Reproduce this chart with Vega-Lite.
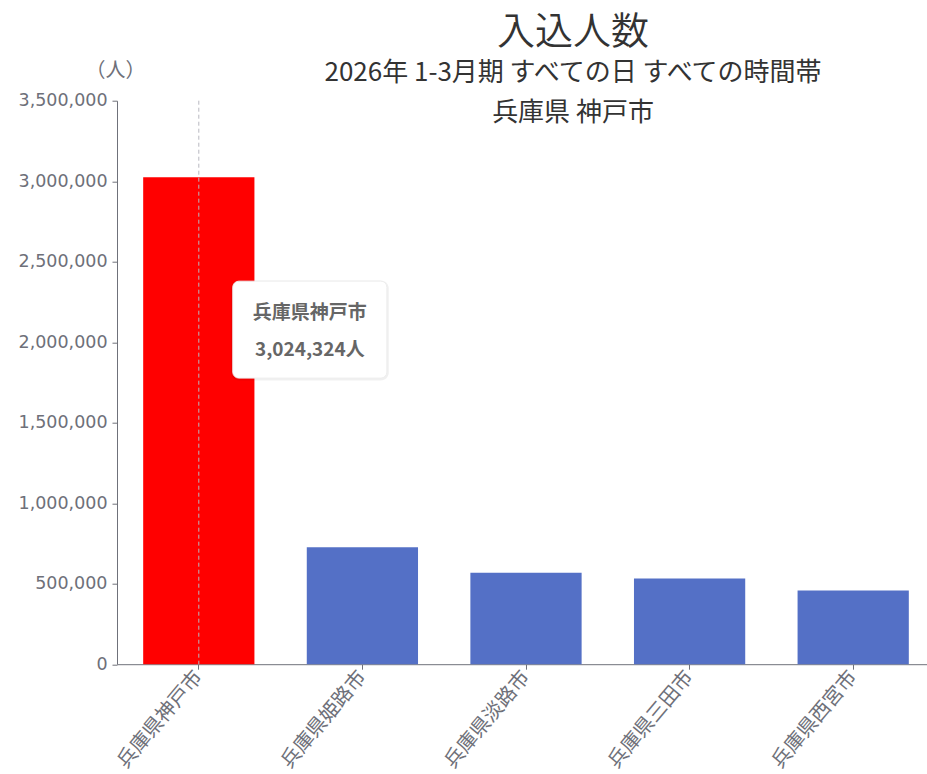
{
  "$schema": "https://vega.github.io/schema/vega-lite/v6.json",
  "autosize": {"type": "none"},
  "width": 818,
  "height": 563.5,
  "padding": {"left": 117, "top": 100.7, "right": 0, "bottom": 110},
  "background": "white",
  "config": {"view": {"stroke": null}, "font": "Noto Sans CJK JP"},
  "title": {
    "text": "入込人数",
    "subtitle": ["2026年 1-3月期 すべての日 すべての時間帯", "兵庫県 神戸市"],
    "anchor": "middle",
    "frame": "group",
    "dx": 47,
    "dy": 73,
    "offset": 8,
    "font": "Noto Sans CJK JP",
    "fontSize": 38,
    "fontWeight": 350,
    "color": "#333333",
    "subtitleFont": "Noto Sans CJK JP",
    "subtitleFontSize": 26,
    "subtitleFontWeight": 400,
    "subtitleColor": "#333333",
    "subtitleLineHeight": 40,
    "subtitlePadding": 8
  },
  "datasets": {
    "main": [
      {"city": "兵庫県神戸市", "value": 3024324},
      {"city": "兵庫県姫路市", "value": 727000},
      {"city": "兵庫県淡路市", "value": 568000},
      {"city": "兵庫県三田市", "value": 533000},
      {"city": "兵庫県西宮市", "value": 457000}
    ],
    "tip": [{"city": "兵庫県神戸市", "value": 3024324}]
  },
  "encoding": {
    "x": {
      "field": "city",
      "type": "nominal",
      "sort": null,
      "title": null,
      "scale": {"paddingInner": 0.32, "paddingOuter": 0.16},
      "axis": {
        "labelAngle": -50,
        "labelFont": "Noto Sans CJK JP",
        "labelFontSize": 20,
        "labelColor": "#6e7079",
        "labelPadding": 4,
        "tickSize": 5,
        "tickColor": "#6e7079",
        "domainColor": "#6e7079",
        "grid": false
      }
    }
  },
  "layer": [
    {
      "data": {"name": "main"},
      "mark": {"type": "bar"},
      "encoding": {
        "y": {
          "field": "value",
          "type": "quantitative",
          "scale": {"domain": [0, 3500000], "nice": false},
          "axis": {
            "values": [0, 500000, 1000000, 1500000, 2000000, 2500000, 3000000, 3500000],
            "format": ",d",
            "grid": false,
            "labelFont": "DejaVu Sans",
            "labelFontSize": 17.5,
            "labelColor": "#6e7079",
            "labelPadding": 5,
            "tickSize": 5,
            "tickColor": "#6e7079",
            "domainColor": "#6e7079",
            "title": "（人）",
            "titleAngle": 0,
            "titleX": -2,
            "titleY": -30,
            "titleAlign": "center",
            "titleBaseline": "middle",
            "titleFont": "Noto Sans CJK JP",
            "titleFontSize": 20,
            "titleFontWeight": "normal",
            "titleColor": "#6e7079"
          }
        },
        "color": {
          "condition": {"test": "datum.city === '兵庫県神戸市'", "value": "#ff0000"},
          "value": "#5470c6"
        }
      }
    },
    {
      "data": {"name": "tip"},
      "mark": {"type": "rule", "color": "#b8b8c0", "strokeDash": [4, 3], "strokeWidth": 1},
      "encoding": {}
    },
    {
      "data": {"name": "tip"},
      "mark": {"type": "rect", "width": {"band": 1.42}, "xOffset": 111, "yOffset": 2, "cornerRadius": 8, "fill": "#000000", "opacity": 0.06},
      "encoding": {
        "y": {"datum": 2395000},
        "y2": {"datum": 1762000}
      }
    },
    {
      "data": {"name": "tip"},
      "mark": {"type": "rect", "width": {"band": 1.385}, "xOffset": 111, "cornerRadius": 6, "fill": "white", "stroke": "#eeeeee", "strokeWidth": 1},
      "encoding": {
        "y": {"datum": 2379000},
        "y2": {"datum": 1777000}
      }
    },
    {
      "data": {"name": "tip"},
      "mark": {"type": "text", "dx": 111, "font": "Noto Sans CJK JP", "fontSize": 19, "fontWeight": "bold", "fill": "#666666", "baseline": "middle", "align": "center"},
      "encoding": {
        "y": {"datum": 2181000},
        "text": {"field": "city"}
      }
    },
    {
      "data": {"name": "tip"},
      "transform": [{"calculate": "format(datum.value, ',') + '人'", "as": "label"}],
      "mark": {"type": "text", "dx": 111, "font": "Noto Sans CJK JP", "fontSize": 19, "fontWeight": "bold", "fill": "#666666", "baseline": "middle", "align": "center"},
      "encoding": {
        "y": {"datum": 1951000},
        "text": {"field": "label"}
      }
    }
  ]
}
